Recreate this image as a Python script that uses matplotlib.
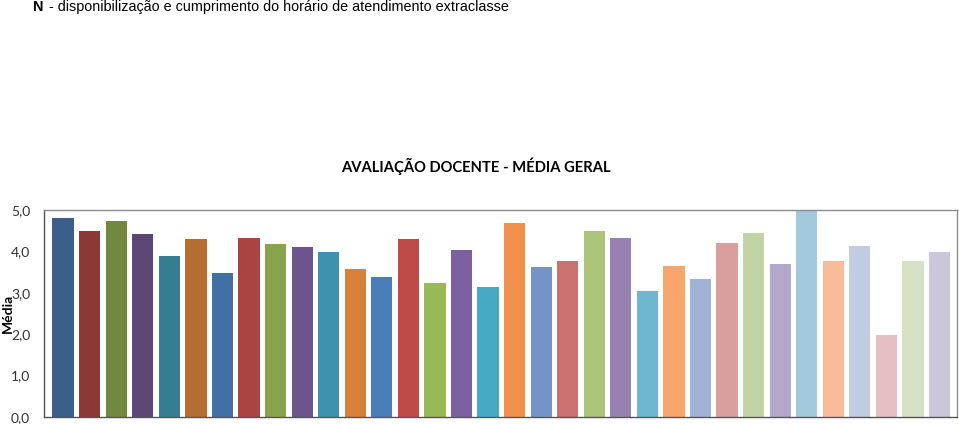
import matplotlib
matplotlib.use("Agg")
import matplotlib.pyplot as plt
from matplotlib.ticker import FixedLocator

# ---- data ----
professores = [str(i) for i in range(1, 35)]
medias = [4.80, 4.49, 4.74, 4.41, 3.89, 4.31, 3.49, 4.32, 4.19, 4.11,
          3.98, 3.57, 3.37, 4.29, 3.23, 4.04, 3.15, 4.69, 3.62, 3.78,
          4.49, 4.32, 3.05, 3.65, 3.34, 4.21, 4.44, 3.70, 5.00, 3.77,
          4.14, 1.98, 3.78, 3.99]
cores = ['#3A5F8B', '#8C3836', '#71893F', '#5C4776', '#357D91', '#B66D31',
         '#4170A6', '#A94442', '#87A34B', '#6E548D', '#3F92AD', '#D9803A',
         '#4A7EBB', '#BE4B48', '#98B954', '#7D60A0', '#46AAC5', '#F0904A',
         '#7394C6', '#CB716F', '#ABC47A', '#9781B1', '#6FB7D1', '#F9A56E',
         '#A0B3D6', '#D99F9E', '#C2D4A4', '#B3A8C7', '#A3C9DC', '#F9BC9A',
         '#C1CCE3', '#E5BFC4', '#D7E1C5', '#CBC6D9']
yticks = [0, 1, 2, 3, 4, 5]
ylabels = ['0,0', '1,0', '2,0', '3,0', '4,0', '5,0']

fig = plt.figure(figsize=(9.59, 4.24), dpi=100)

# header line above the chart
fig.text(33 / 959, 1 - 7 / 424, 'N', fontsize=10.4, fontweight='bold',
         family='Liberation Sans', va='center', ha='left')
fig.text(45 / 959, 1 - 7 / 424, ' - disponibilização e cumprimento do horário de atendimento extraclasse',
         fontsize=10.4, family='Liberation Sans', va='center', ha='left')

ax = fig.add_axes([44 / 959, 7 / 424, (957 - 44) / 959, (417 - 210) / 424])
ax.bar(range(len(medias)), medias, width=0.80, color=cores)

ax.set_xlim(-0.72, len(medias) - 1 + 0.66)
ax.set_ylim(0, 5)
ax.yaxis.set_major_locator(FixedLocator(yticks))
ax.set_yticklabels(ylabels, family='Lato', fontsize=10, color='#333333')
ax.set_xticks([])
ax.tick_params(axis='y', length=0, pad=10)

for side in ['top', 'right']:
    ax.spines[side].set_color('#8c8c8c')
for side in ['left', 'bottom']:
    ax.spines[side].set_color('#555555')
for sp in ax.spines.values():
    sp.set_linewidth(1.0)

fig.text(8 / 959, 1 - 313 / 424, 'Média', family='Lato', fontweight='bold',
         fontsize=10, rotation=90, ha='center', va='center')

fig.text(476 / 959, 1 - 166 / 424, 'AVALIAÇÃO DOCENTE - MÉDIA GERAL',
         family='Lato', fontweight='bold', fontsize=10.6, ha='center', va='center')

fig.savefig('out.png', dpi=100)
